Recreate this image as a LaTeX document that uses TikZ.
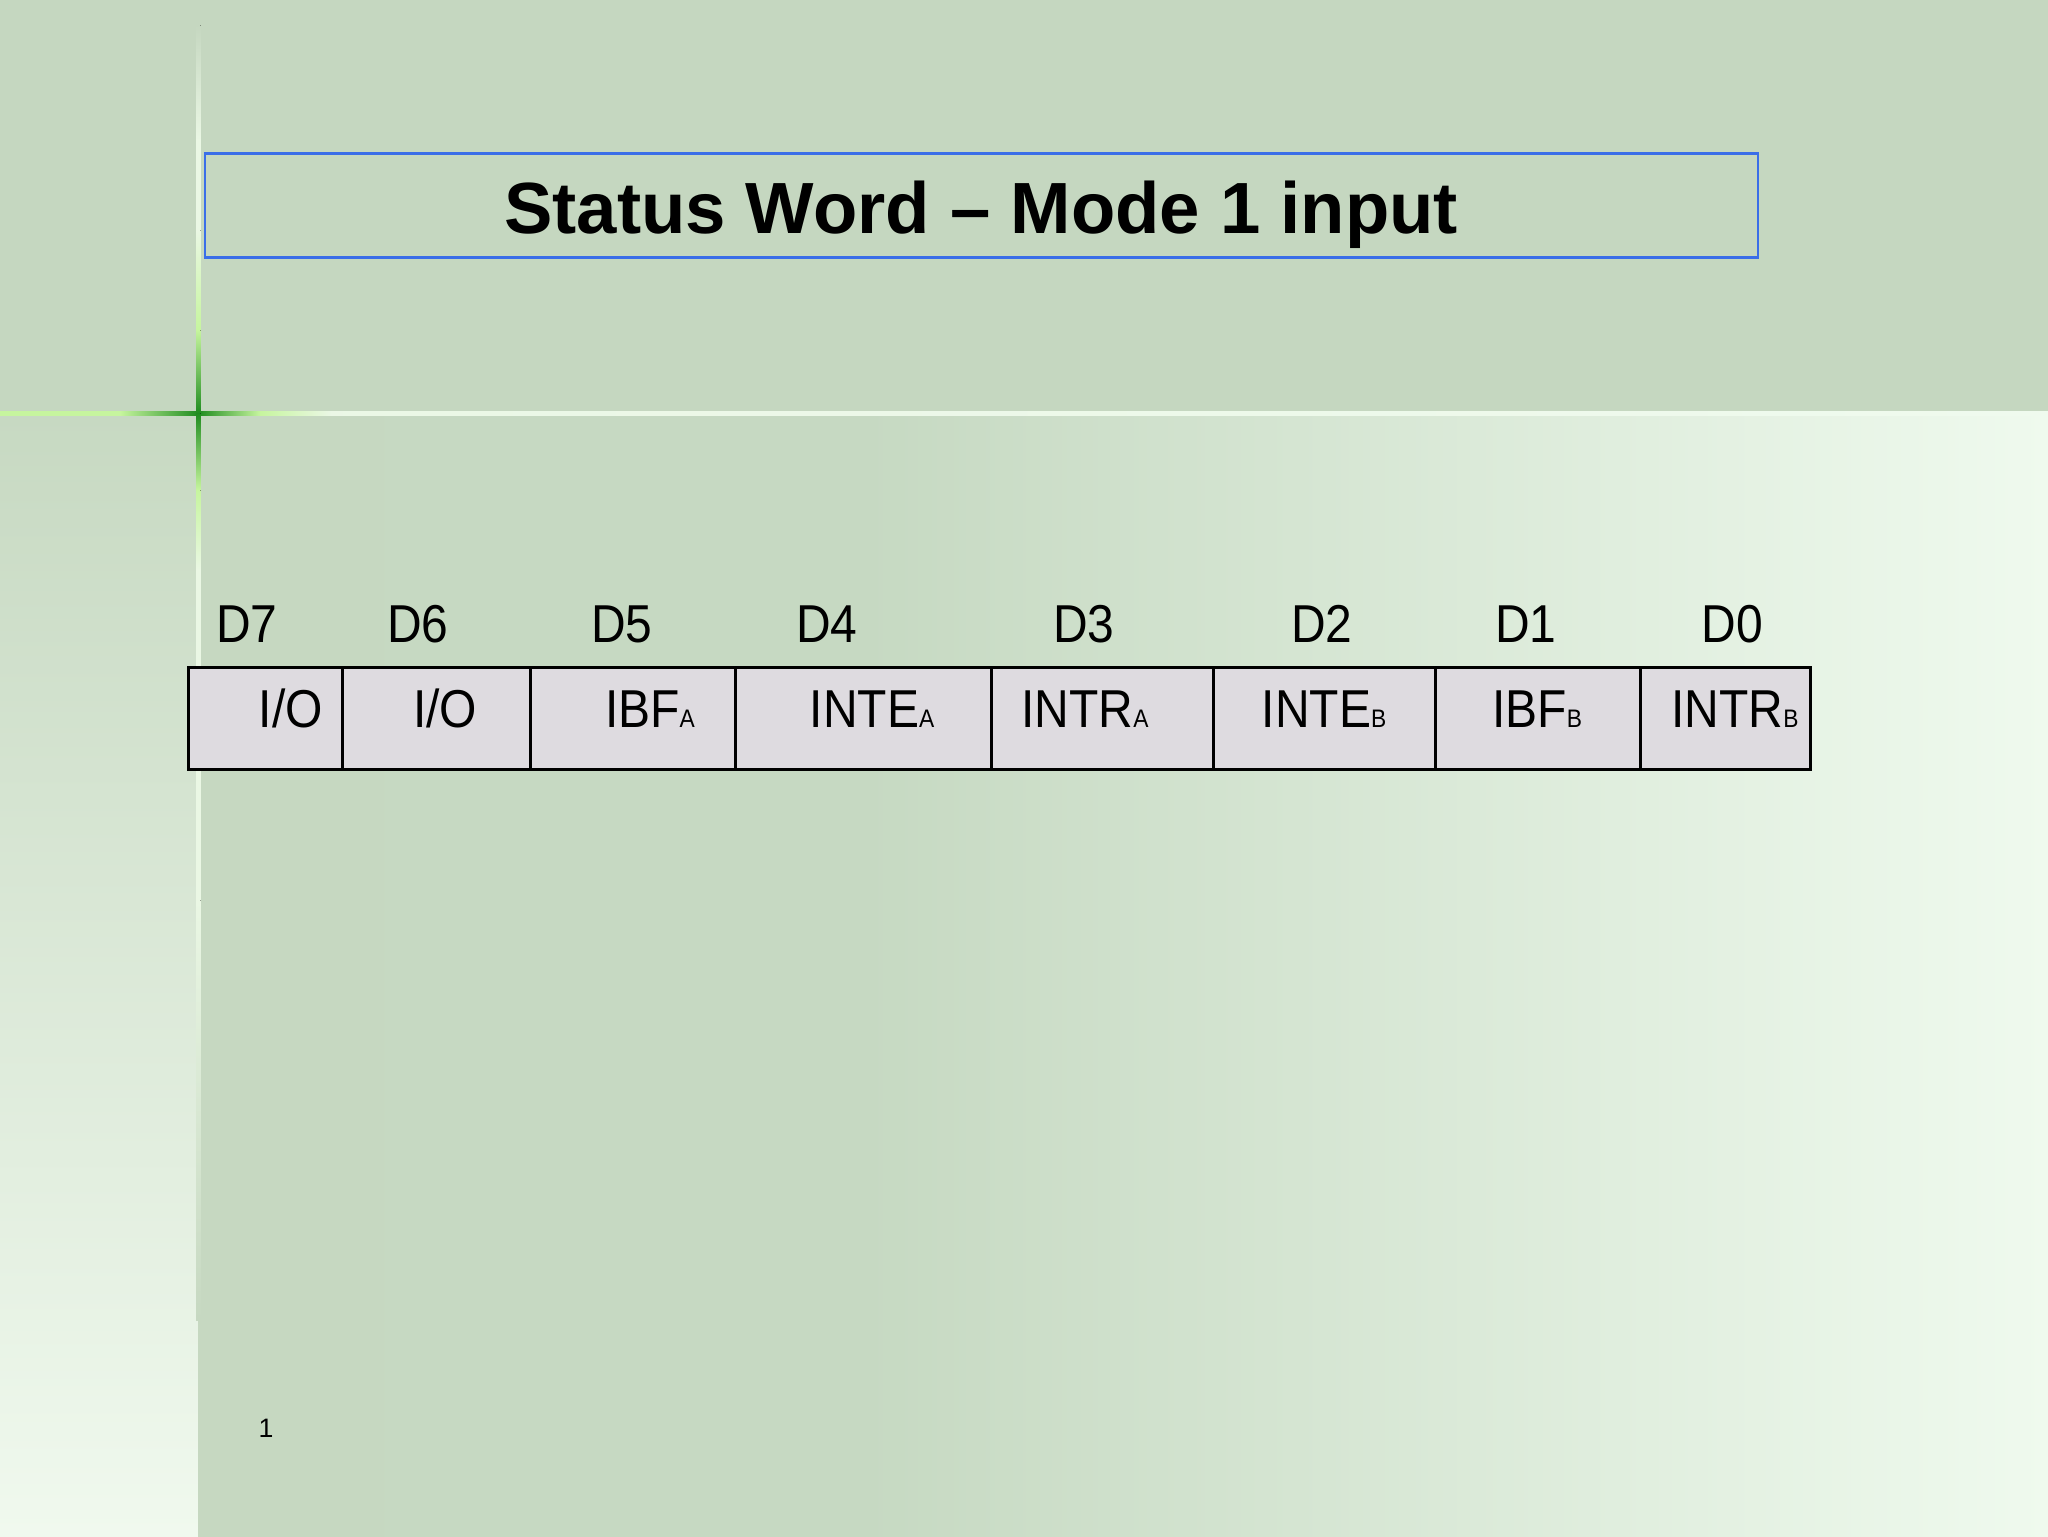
\documentclass[tikz,border=0pt]{standalone}
\usepackage{fontspec}
\setmainfont{Liberation Sans}
\newfontfamily\cellfont[FakeStretch=0.9]{Liberation Sans}
\definecolor{band}{HTML}{C5D7C0}
\definecolor{stripT}{HTML}{C7D9C2}
\definecolor{stripB}{HTML}{F0F9EE}
\definecolor{mainL}{HTML}{C6D8C1}
\definecolor{mainM}{HTML}{C6D9C2}
\definecolor{mainR}{HTML}{EFFAEE}
\definecolor{lineW}{HTML}{EAF7E4}
\definecolor{lgreen}{HTML}{C6F59E}
\definecolor{dgreen}{HTML}{1F8C1F}
\definecolor{cellfill}{HTML}{DEDBE0}
\definecolor{titleblue}{HTML}{3A6EE8}
\pgfdeclarehorizontalshading{mainbg}{100bp}{color(0bp)=(mainL); color(25bp)=(mainL); color(35bp)=(mainM); color(43bp)=(mainM); color(75bp)=(mainR); color(100bp)=(mainR)}
\newcommand\sm[1]{{\fontsize{9.5}{10}\selectfont #1}}
\begin{document}
\begin{tikzpicture}[x=0.375pt,y=-0.375pt,
  cell/.style={draw=black, fill=cellfill, line width=1pt, inner sep=0pt, minimum height={102*0.375pt}, anchor=north west},
  celltext/.style={anchor=base, inner sep=0pt, font=\cellfont\fontsize{20}{24}\selectfont},
  bitlabel/.style={anchor=base, inner sep=0pt, font=\cellfont\fontsize{20}{24}\selectfont},
  titlebox/.style={draw=titleblue, line width=1.1pt, inner sep=0pt},
  titletext/.style={anchor=base, inner sep=0pt, font=\bfseries\fontsize{27.2}{32}\selectfont}]
\useasboundingbox (0,0) rectangle (2048,1536);
% background
\fill[band] (0,0) rectangle (2048,413);
\fill[top color=stripT, bottom color=stripB] (0,413) rectangle (198,1536);
\shade[shading=mainbg] (198,413) rectangle (2048,1536);
% light lines
\fill[left color=lineW, right color=mainR] (0,411) rectangle (2048,415.5);
\fill[top color=band, bottom color=lineW] (196,25) rectangle (200.5,140);
\fill[lineW] (196,140) rectangle (200.5,900);
\fill[top color=lineW, bottom color=mainL] (196,900) rectangle (200.5,1320);
% green cross glow
\fill[lgreen] (0,411) rectangle (120,415.5);
\fill[left color=lgreen, right color=dgreen] (120,411) rectangle (198.25,415.5);
\fill[left color=dgreen, right color=lgreen] (198.25,411) rectangle (260,415.5);
\fill[left color=lgreen, right color=lineW] (260,411) rectangle (330,415.5);
\fill[top color=lineW, bottom color=lgreen] (196,230) rectangle (200.5,330);
\fill[top color=lgreen, bottom color=dgreen] (196,330) rectangle (200.5,413.25);
\fill[top color=dgreen, bottom color=lgreen] (196,413.25) rectangle (200.5,490);
\fill[top color=lgreen, bottom color=lineW] (196,490) rectangle (200.5,570);
% title
\node[titlebox, minimum width={1553*0.375pt}, minimum height={104*0.375pt}] (tbox) at (981.5,205.5) {};
\node[titletext] (title) at (981,233) {Status Word – Mode 1 input};
% bit labels
\node[bitlabel] (d7) at (247,642) {D7};
\node[bitlabel] (d6) at (418,642) {D6};
\node[bitlabel] (d5) at (622,642) {D5};
\node[bitlabel] (d4) at (827,642) {D4};
\node[bitlabel] (d3) at (1084,642) {D3};
\node[bitlabel] (d2) at (1322,642) {D2};
\node[bitlabel] (d1) at (1526,642) {D1};
\node[bitlabel] (d0) at (1732,642) {D0};
% cells
\node[cell, minimum width={154*0.375pt}] (c7) at (187,666) {};
\node[cell, minimum width={188*0.375pt}] (c6) at (341,666) {};
\node[cell, minimum width={205*0.375pt}] (c5) at (529,666) {};
\node[cell, minimum width={256*0.375pt}] (c4) at (734,666) {};
\node[cell, minimum width={222*0.375pt}] (c3) at (990,666) {};
\node[cell, minimum width={222*0.375pt}] (c2) at (1212,666) {};
\node[cell, minimum width={205*0.375pt}] (c1) at (1434,666) {};
\node[cell, minimum width={170*0.375pt}] (c0) at (1639,666) {};
% cell texts
\node[celltext] (t7) at (291,727) {I/O};
\node[celltext] (t6) at (445,727) {I/O};
\node[celltext] (t5) at (650,727) {IBF\sm{A}};
\node[celltext] (t4) at (872,727) {INTE\sm{A}};
\node[celltext] (t3) at (1085,727) {INTR\sm{A}};
\node[celltext] (t2) at (1324,727) {INTE\sm{B}};
\node[celltext] (t1) at (1537,727) {IBF\sm{B}};
\node[celltext] (t0) at (1735,727) {INTR\sm{B}};
% page number
\node[anchor=base, inner sep=0pt, font=\fontsize{10}{12}\selectfont] (pnum) at (266,1437) {1};
\end{tikzpicture}
\end{document}
